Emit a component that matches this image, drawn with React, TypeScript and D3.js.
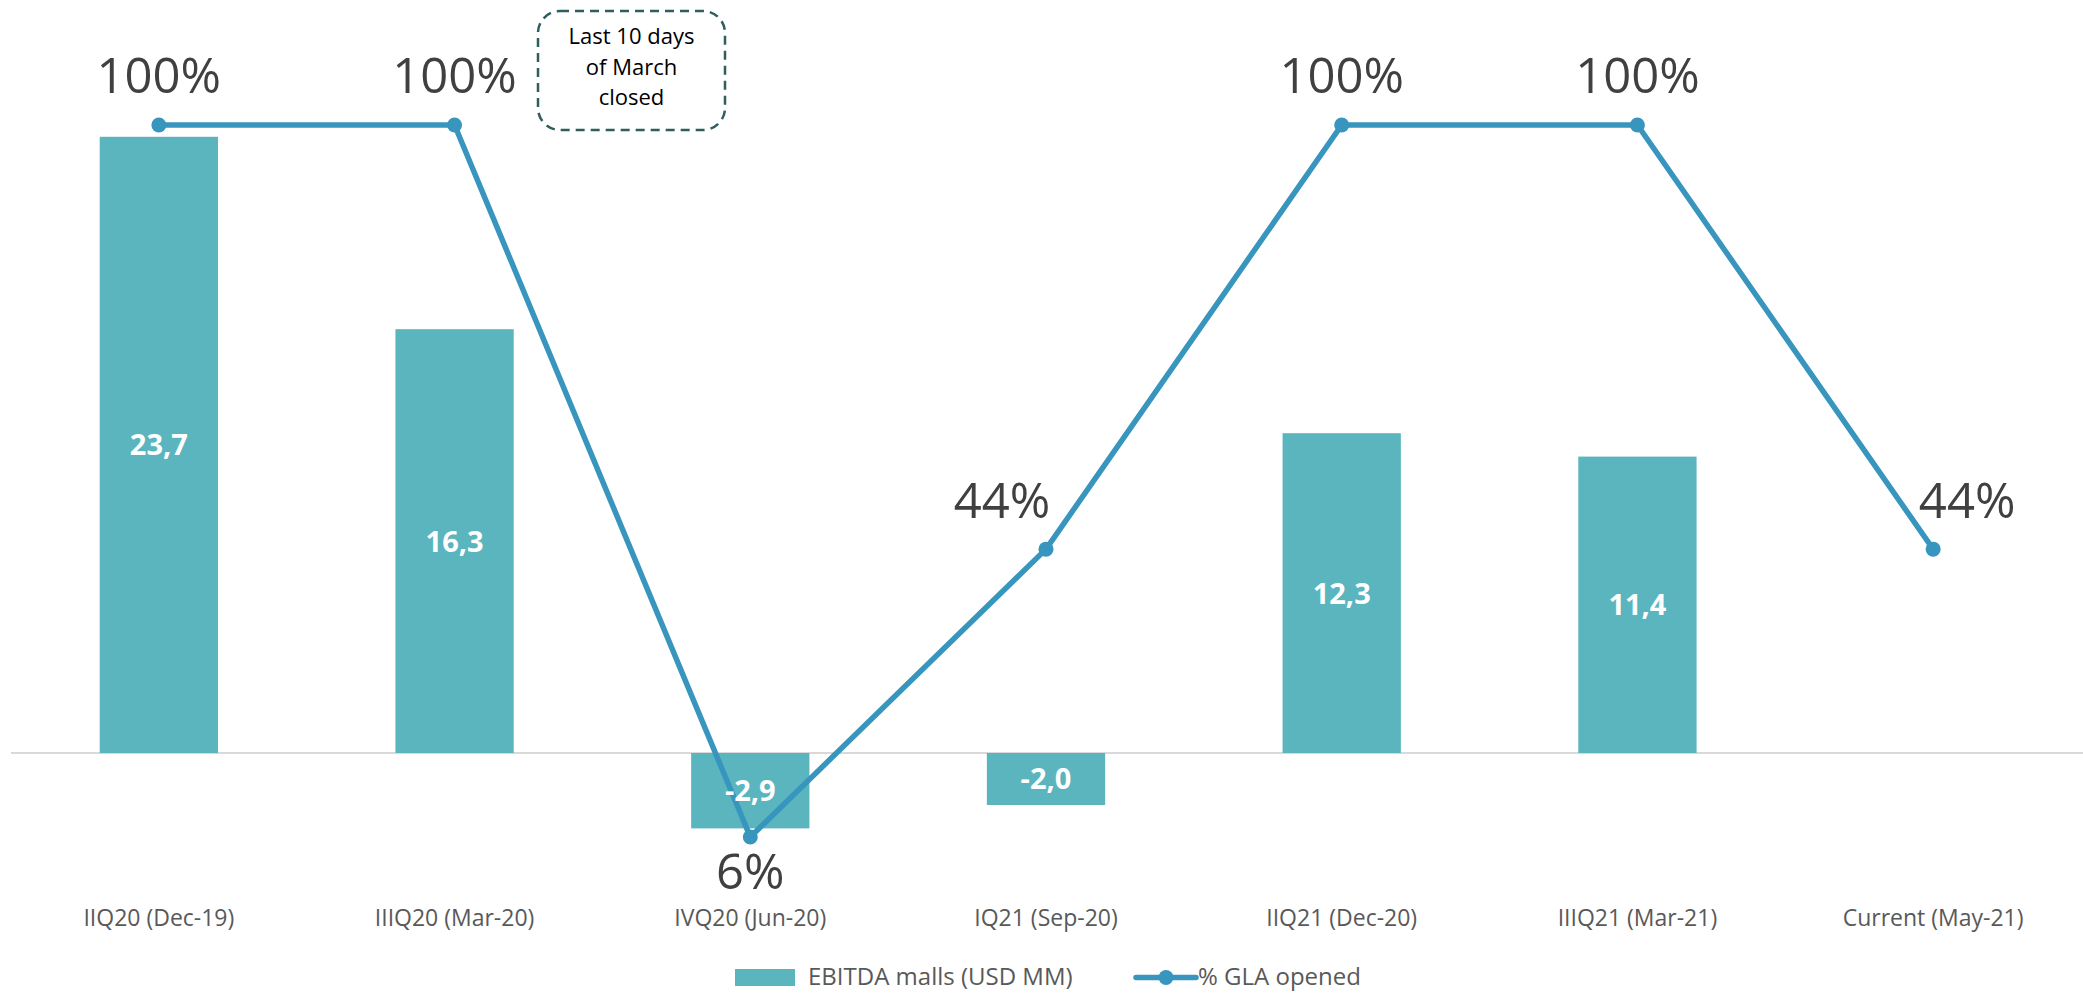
import React from "react";
import * as d3 from "d3";

const categories = [
  "IIQ20 (Dec-19)",
  "IIIQ20 (Mar-20)",
  "IVQ20 (Jun-20)",
  "IQ21 (Sep-20)",
  "IIQ21 (Dec-20)",
  "IIIQ21 (Mar-21)",
  "Current (May-21)",
];
const ebitda: (number | null)[] = [23.7, 16.3, -2.9, -2.0, 12.3, 11.4, null];
const glaOpened = [100, 100, 6, 44, 100, 100, 44];
// label placement per point: [dx, dy]
const glaLabelOffset: [number, number][] = [
  [0, -32], [0, -32], [0, 52], [-44, -31], [0, -32], [0, -32], [34, -31],
];
const annotationLines = ["Last 10 days", "of March", "closed"];
const legendItems = ["EBITDA malls (USD MM)", "% GLA opened"];

const W = 2083;
const H = 993;
const BAR = "#5AB5BF";
const LINE = "#3896BE";
const FONT = "'Open Sans', 'Noto Sans', sans-serif";

export default function App() {
  const x = d3.scaleBand<string>().domain(categories).range([11, 2081]).padding(0);
  const bw = x.bandwidth();
  const barW = bw * 0.4;
  const yBar = d3.scaleLinear().domain([-5, 25]).range([883, 103]);
  const yLine = d3.scaleLinear().domain([0, 100]).range([882.4, 125]);
  const cx = (c: string) => (x(c) as number) + bw / 2;

  const linePath = d3
    .line<number>()
    .x((_, i) => cx(categories[i]))
    .y((d) => yLine(d))(glaOpened) as string;

  const fmt = (v: number) => v.toFixed(1).replace(".", ",");

  return (
    <svg
      width={W}
      height={H}
      style={{ position: "absolute", left: 0, top: 0, background: "#fff" }}
      fontFamily={FONT}
    >
      {/* zero axis line */}
      <line x1={11} x2={2083} y1={yBar(0)} y2={yBar(0)} stroke="#D9D9D9" strokeWidth={2} />

      {/* bars */}
      {categories.map((c, i) => {
        const v = ebitda[i];
        if (v === null) return null;
        const y0 = yBar(0);
        const y1 = yBar(v);
        return (
          <rect
            key={c}
            x={cx(c) - barW / 2}
            y={Math.min(y0, y1)}
            width={barW}
            height={Math.abs(y1 - y0)}
            fill={BAR}
          />
        );
      })}

      {/* line */}
      <path d={linePath} fill="none" stroke={LINE} strokeWidth={5.5} strokeLinejoin="round" />
      {glaOpened.map((v, i) => (
        <circle key={i} cx={cx(categories[i])} cy={yLine(v)} r={7.5} fill={LINE} />
      ))}

      {/* bar labels */}
      {categories.map((c, i) => {
        const v = ebitda[i];
        if (v === null) return null;
        const ym = (yBar(0) + yBar(v)) / 2;
        return (
          <text
            key={c}
            x={cx(c)}
            y={ym}
            dy="0.36em"
            textAnchor="middle"
            fill="#fff"
            fontWeight={700}
            fontSize={29}
          >
            {fmt(v)}
          </text>
        );
      })}

      {/* percentage labels */}
      {glaOpened.map((v, i) => (
        <text
          key={i}
          x={cx(categories[i]) + glaLabelOffset[i][0]}
          y={yLine(v) + glaLabelOffset[i][1]}
          textAnchor="middle"
          fill="#404040"
          fontSize={49}
        >
          {v + "%"}
        </text>
      ))}

      {/* category labels */}
      {categories.map((c) => (
        <text key={c} x={cx(c)} y={926} textAnchor="middle" fill="#595959" fontSize={23}>
          {c}
        </text>
      ))}

      {/* annotation */}
      <rect
        x={538}
        y={11}
        width={187}
        height={119}
        rx={22}
        ry={22}
        fill="#fff"
        stroke="#2E5E5E"
        strokeWidth={2.5}
        strokeDasharray="9 6"
      />
      {annotationLines.map((t, i) => (
        <text key={t} x={631.5} y={44 + i * 30.5} textAnchor="middle" fill="#000" fontSize={22}>
          {t}
        </text>
      ))}

      {/* legend */}
      <rect x={735} y={969} width={60} height={17} fill={BAR} />
      <text x={808} y={985} fill="#595959" fontSize={24}>
        {legendItems[0]}
      </text>
      <line x1={1136} x2={1196} y1={977.5} y2={977.5} stroke={LINE} strokeWidth={5.5} strokeLinecap="round" />
      <circle cx={1166} cy={977.5} r={7.5} fill={LINE} />
      <text x={1198} y={985} fill="#595959" fontSize={24}>
        {legendItems[1]}
      </text>
    </svg>
  );
}
